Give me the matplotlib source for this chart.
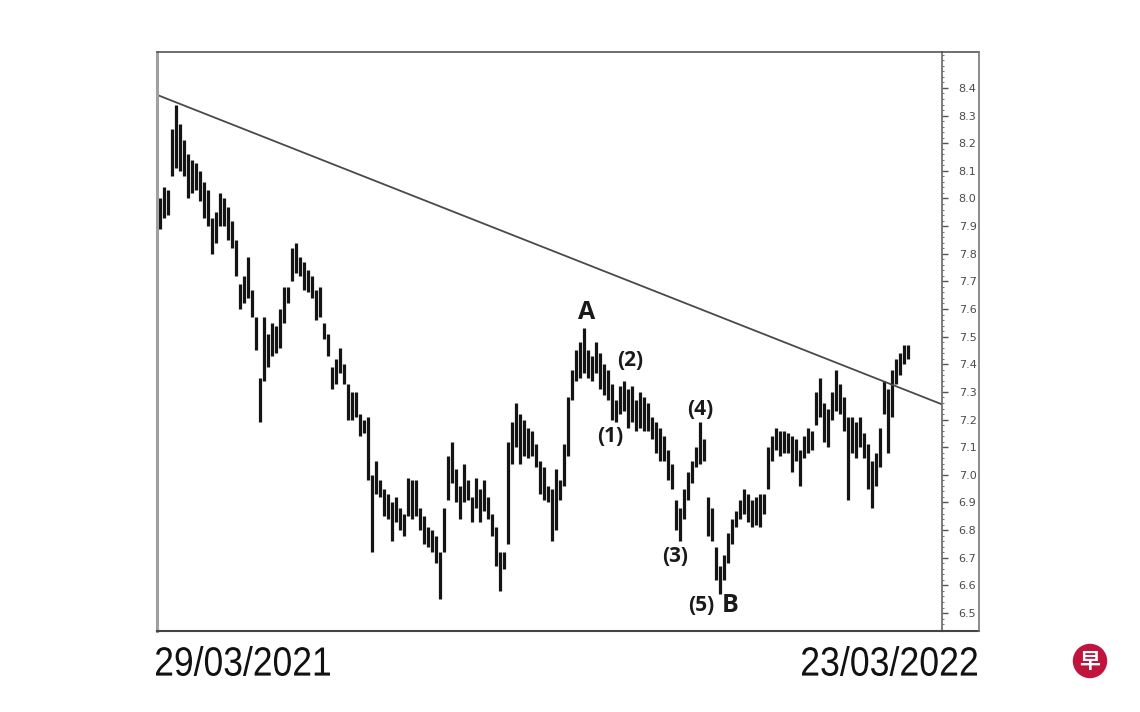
import numpy as np
import matplotlib
matplotlib.use("Agg")
import matplotlib.pyplot as plt
from matplotlib.ticker import MultipleLocator, FixedLocator, FormatStrFormatter
from matplotlib.lines import Line2D
from matplotlib.patches import Ellipse, PathPatch
from matplotlib.textpath import TextPath
from matplotlib.font_manager import FontProperties
from matplotlib.transforms import Affine2D, IdentityTransform

# daily price bars (high / low)
highs = [8.00, 8.04, 8.03, 8.25, 8.34, 8.27, 8.21, 8.16, 8.14, 8.13,
         8.10, 8.06, 8.03, 7.93, 7.95, 8.02, 8.00, 7.97, 7.92, 7.85,
         7.69, 7.72, 7.79, 7.67, 7.57, 7.35, 7.57, 7.51, 7.55, 7.54,
         7.60, 7.68, 7.68, 7.82, 7.84, 7.79, 7.77, 7.74, 7.72, 7.67,
         7.68, 7.55, 7.51, 7.39, 7.42, 7.46, 7.40, 7.33, 7.30, 7.30,
         7.22, 7.20, 7.21, 7.00, 7.05, 6.98, 6.95, 6.93, 6.90, 6.92,
         6.88, 6.86, 6.99, 6.98, 6.98, 6.88, 6.85, 6.81, 6.80, 6.78,
         6.72, 6.88, 7.07, 7.12, 7.02, 6.96, 7.04, 6.98, 6.92, 6.99,
         6.95, 6.98, 6.92, 6.86, 6.81, 6.72, 6.72, 7.12, 7.19, 7.26,
         7.22, 7.20, 7.17, 7.16, 7.11, 7.05, 7.03, 6.96, 6.95, 7.02,
         6.98, 7.11, 7.28, 7.38, 7.45, 7.48, 7.53, 7.45, 7.43, 7.48,
         7.44, 7.40, 7.38, 7.33, 7.27, 7.32, 7.34, 7.31, 7.32, 7.27,
         7.30, 7.28, 7.26, 7.21, 7.19, 7.17, 7.14, 7.09, 7.04, 6.91,
         6.88, 6.95, 7.01, 7.05, 7.10, 7.19, 7.13, 6.92, 6.88, 6.74,
         6.67, 6.71, 6.79, 6.84, 6.87, 6.91, 6.95, 6.93, 6.91, 6.92,
         6.93, 6.93, 7.10, 7.14, 7.17, 7.16, 7.16, 7.15, 7.14, 7.13,
         7.09, 7.14, 7.17, 7.16, 7.30, 7.35, 7.26, 7.24, 7.30, 7.38,
         7.33, 7.28, 7.21, 7.21, 7.19, 7.21, 7.15, 7.11, 7.05, 7.08,
         7.17, 7.34, 7.31, 7.38, 7.42, 7.44, 7.47, 7.47]
lows = [7.89, 7.93, 7.94, 8.08, 8.11, 8.10, 8.08, 8.00, 8.02, 8.03,
        7.99, 7.93, 7.90, 7.80, 7.84, 7.90, 7.90, 7.85, 7.82, 7.72,
        7.60, 7.62, 7.64, 7.57, 7.45, 7.19, 7.34, 7.39, 7.43, 7.44,
        7.46, 7.55, 7.62, 7.70, 7.73, 7.72, 7.67, 7.66, 7.64, 7.56,
        7.57, 7.49, 7.43, 7.31, 7.33, 7.37, 7.33, 7.20, 7.20, 7.21,
        7.14, 7.15, 6.98, 6.72, 6.93, 6.92, 6.85, 6.84, 6.76, 6.83,
        6.80, 6.78, 6.85, 6.84, 6.85, 6.80, 6.75, 6.74, 6.72, 6.68,
        6.55, 6.72, 6.91, 6.97, 6.90, 6.84, 6.90, 6.91, 6.83, 6.88,
        6.83, 6.87, 6.84, 6.78, 6.67, 6.58, 6.66, 6.75, 7.04, 7.10,
        7.04, 7.07, 7.06, 7.07, 7.03, 6.93, 6.91, 6.90, 6.76, 6.80,
        6.91, 6.96, 7.07, 7.27, 7.34, 7.35, 7.37, 7.35, 7.34, 7.37,
        7.31, 7.29, 7.27, 7.20, 7.19, 7.22, 7.23, 7.17, 7.19, 7.16,
        7.17, 7.16, 7.16, 7.13, 7.08, 7.05, 7.05, 6.98, 6.95, 6.80,
        6.76, 6.84, 6.91, 6.97, 7.03, 7.04, 7.05, 6.78, 6.76, 6.62,
        6.57, 6.62, 6.68, 6.75, 6.81, 6.84, 6.86, 6.83, 6.81, 6.82,
        6.81, 6.86, 6.95, 7.05, 7.09, 7.07, 7.08, 7.08, 7.01, 7.05,
        6.96, 7.06, 7.08, 7.09, 7.18, 7.21, 7.12, 7.10, 7.20, 7.23,
        7.22, 7.16, 6.91, 7.08, 7.06, 7.10, 7.06, 6.95, 6.88, 6.96,
        7.03, 7.22, 7.08, 7.21, 7.33, 7.36, 7.40, 7.42]

trend_prices = [8.375, 7.255]   # resistance line at left / right edge
price_ticks = [6.5, 6.6, 6.7, 6.8, 6.9, 7.0, 7.1, 7.2, 7.3, 7.4,
               7.5, 7.6, 7.7, 7.8, 7.9, 8.0, 8.1, 8.2, 8.3, 8.4]
date_labels = ["29/03/2021", "23/03/2022"]
wave_labels = ["A", "(1)", "(2)", "(3)", "(4)", "(5)", "B"]

W, H = 1140, 712
fig = plt.figure(figsize=(W / 100, H / 100), dpi=100)
fig.patch.set_facecolor("white")

L, R, T, B = 157, 942, 52, 631
ax = fig.add_axes([L / W, 1 - B / H, (R - L) / W, (B - T) / H])

x = np.arange(len(highs))
ax.vlines(x, lows, highs, color="#141414", lw=2.3)

x0, x1 = -0.75, 195.5
ax.plot([x0, x1], trend_prices, color="#4a4a4a", lw=1.3)
ax.set_xlim(x0, x1)
ax.set_ylim(6.435, 8.530)

ax.set_xticks([])
ax.yaxis.tick_right()
ax.yaxis.set_major_locator(FixedLocator(price_ticks))
ax.yaxis.set_minor_locator(MultipleLocator(0.02))
ax.yaxis.set_major_formatter(FormatStrFormatter("%.1f"))
ax.tick_params(axis="y", which="major", length=4, width=1, color="#555",
               pad=8, labelsize=8, labelcolor="#4a4a4a")
ax.tick_params(axis="y", which="minor", length=1.5, width=0.8, color="#777")

ax.spines["left"].set_color("#a0a0a0")
ax.spines["left"].set_linewidth(2.2)
ax.spines["top"].set_color("#555")
ax.spines["top"].set_linewidth(1.2)
ax.spines["bottom"].set_color("#444")
ax.spines["bottom"].set_linewidth(1.5)
ax.spines["right"].set_color("#666")
ax.spines["right"].set_linewidth(1.2)

# outer frame around the price scale
R2 = 979
fig.add_artist(Line2D([R / W, R2 / W], [1 - T / H] * 2, color="#555", lw=1.2))
fig.add_artist(Line2D([R / W, R2 / W], [1 - B / H] * 2, color="#444", lw=1.5))
fig.add_artist(Line2D([R2 / W] * 2, [1 - T / H, 1 - B / H], color="#777", lw=1.2))

# wave annotations
bold = dict(fontweight="bold", color="#1a1a1a", ha="center", va="center",
            family=["Open Sans", "DejaVu Sans"])
ax.text(106.75, 7.589, wave_labels[0], fontsize=18, **bold)
ax.text(112.5, 7.137, wave_labels[1], fontsize=15, **bold)
ax.text(117.5, 7.412, wave_labels[2], fontsize=15, **bold)
ax.text(128.75, 6.703, wave_labels[3], fontsize=15, **bold)
ax.text(135.0, 7.238, wave_labels[4], fontsize=15, **bold)
ax.text(135.3, 6.529, wave_labels[5], fontsize=15, **bold)
ax.text(142.5, 6.529, wave_labels[6], fontsize=18, **bold)


# start / end dates, drawn as condensed outlines (narrow grotesque look)
def narrow_text(s, left, bottom, width, height):
    tp = TextPath((0, 0), s, size=40, prop=FontProperties(family="Liberation Sans"))
    bb = tp.get_extents()
    tr = (Affine2D().translate(-bb.x0, -bb.y0)
          .scale(width / bb.width, height / bb.height)
          .translate(left, H - bottom))
    fig.add_artist(PathPatch(tr.transform_path(tp), facecolor="#111",
                             edgecolor="none", transform=IdentityTransform()))


narrow_text(date_labels[0], 156, 676, 174, 30)
narrow_text(date_labels[1], 802, 676, 175, 30)

# logo
fig.add_artist(Ellipse((1090 / W, 1 - 661 / H), 33 / W, 33 / H,
                       transform=fig.transFigure, color="#c0143c"))
fig.text(1090 / W, 1 - 662 / H, "早", ha="center", va="center", fontsize=15,
         color="white", fontweight="bold", family=["Noto Sans CJK SC", "DejaVu Sans"])

fig.savefig("out.png", dpi=100)
